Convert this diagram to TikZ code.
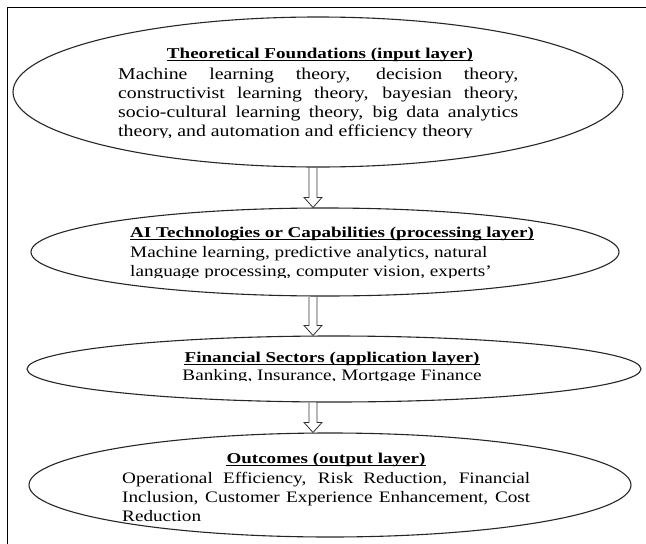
\documentclass[tikz,border=0pt]{standalone}
\usepackage{fontspec}
\setmainfont{Liberation Serif}
\newfontfamily\ttlfont[FakeStretch=1.27]{Liberation Serif}
\newfontfamily\bodfont[FakeStretch=1.2]{Liberation Serif}
\usetikzlibrary{shapes.geometric,calc}
\begin{document}
\begin{tikzpicture}[x=1pt,y=-1pt,
  frame/.style={draw=black, line width=1pt},
  ell/.style={draw=black!85, line width=1.1pt, ellipse, inner sep=0pt},
  ttl/.style={font=\ttlfont\bfseries\fontsize{15}{19}\selectfont, inner sep=0pt, text=black},
  bod/.style={font=\bodfont\fontsize{16}{19}\selectfont, inner sep=0pt, anchor=base west, text=black},
  bodA/.style={font=\bodfont\fontsize{16.5}{19}\selectfont, inner sep=0pt, anchor=base west, text=black},
  uline/.style={draw=black, line width=0.9pt},
  blockarrow/.style={draw=black!80, line width=0.8pt,
    to path={let \p1=(\tikztostart), \p2=(\tikztotarget) in
      (\x1-4pt,\y1) -- (\x1-4pt,\y2+10pt) -- (\x1-9pt,\y2+10pt) -- (\x1,\y2)
      -- (\x1+9pt,\y2+10pt) -- (\x1+4pt,\y2+10pt) -- (\x1+4pt,\y1)}}
]
\useasboundingbox (0,0) rectangle (646,544);
% frame
\draw[frame] (7,544) -- (7,7) -- (646,7);

% ellipses
\node[ell, minimum width=610pt, minimum height=150pt] (e1) at (318,92) {};
\node[ell, minimum width=588pt, minimum height=88pt] (e2) at (325,252) {};
\node[ell, minimum width=614pt, minimum height=66pt] (e3) at (334,369) {};
\node[ell, minimum width=602pt, minimum height=104pt] (e4) at (330,485) {};

% arrows
\coordinate (ax) at (313,0);
\draw[blockarrow] (ax |- e1.south) to (ax |- e2.north);
\draw[blockarrow] (ax |- e2.south) to (ax |- e3.north);
\draw[blockarrow] (ax |- e3.south) to (ax |- e4.north);

% E1 text
\node[ttl, anchor=base] (t1) at (320,58) {Theoretical Foundations (input layer)};
\draw[uline] ([yshift=-2.5pt]t1.base west) -- ([yshift=-2.5pt]t1.base east);
\node[bodA] (b1a) at (118,79) {\makebox[400pt][s]{Machine learning theory, decision theory,}};
\node[bodA] (b1b) at (118,98) {\makebox[400pt][s]{constructivist learning theory, bayesian theory,}};
\node[bodA] (b1c) at (118,117) {\makebox[400pt][s]{socio-cultural learning theory, big data analytics}};
\begin{scope}
\clip (0,0) rectangle (646,137);
\node[bodA] (b1d) at (118,136) {theory, and automation and efficiency theory};
\end{scope}

% E2 text
\node[ttl, anchor=base west] (t2) at (130,237) {AI Technologies or Capabilities (processing layer)};
\draw[uline] ([yshift=-2.5pt]t2.base west) -- ([yshift=-2.5pt]t2.base east);
\node[bod] (b2a) at (130,257) {Machine learning, predictive analytics, natural};
\begin{scope}
\clip (0,0) rectangle (646,277);
\node[bod] (b2b) at (130,276) {language processing, computer vision, experts’};
\end{scope}

% E3 text
\node[ttl, anchor=base] (t3) at (332,362) {Financial Sectors (application layer)};
\draw[uline] ([yshift=-2.5pt]t3.base west) -- ([yshift=-2.5pt]t3.base east);
\begin{scope}
\clip (0,0) rectangle (646,380);
\node[bod, anchor=base] (b3a) at (332,380) {Banking, Insurance, Mortgage Finance};
\end{scope}

% E4 text
\node[ttl, anchor=base] (t4) at (326,463) {Outcomes (output layer)};
\draw[uline] ([yshift=-2.5pt]t4.base west) -- ([yshift=-2.5pt]t4.base east);
\node[bod] (b4a) at (122,483) {\makebox[408pt][s]{Operational Efficiency, Risk Reduction, Financial}};
\node[bod] (b4b) at (122,502) {\makebox[408pt][s]{Inclusion, Customer Experience Enhancement, Cost}};
\begin{scope}
\clip (0,0) rectangle (646,522);
\node[bod] (b4c) at (122,521) {Reduction};
\end{scope}
\end{tikzpicture}
\end{document}
